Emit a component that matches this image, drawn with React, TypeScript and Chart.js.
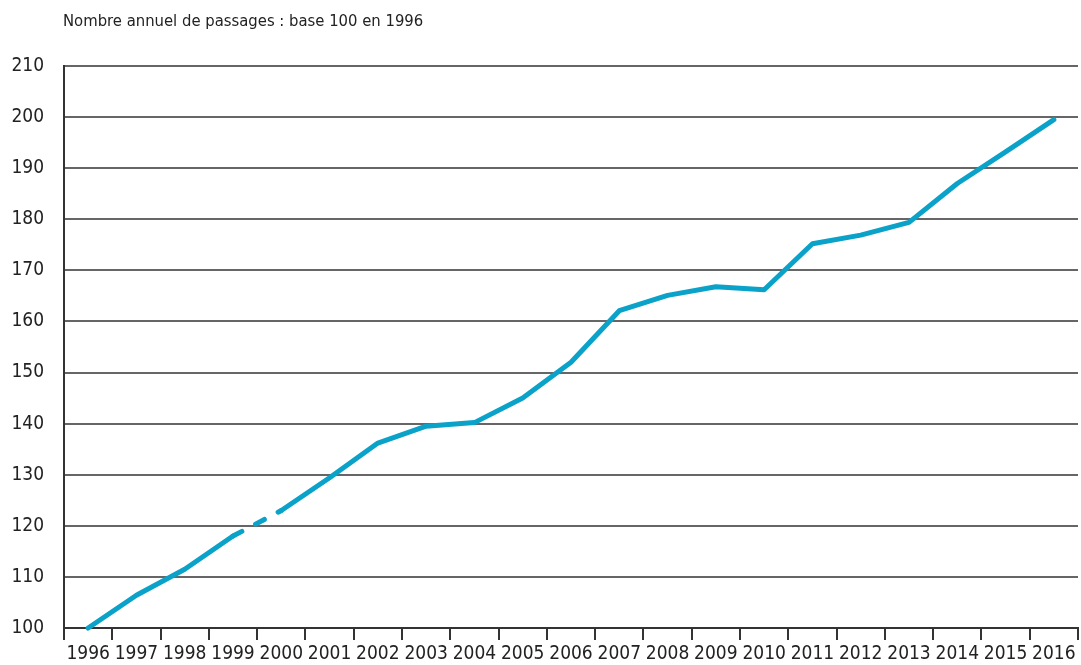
import React, { useEffect, useRef } from "react";
import { Chart, registerables } from "chart.js";

Chart.register(...registerables);

const years: string[] = [
  "1996", "1997", "1998", "1999", "2000", "2001", "2002", "2003", "2004", "2005", "2006",
  "2007", "2008", "2009", "2010", "2011", "2012", "2013", "2014", "2015", "2016",
];
const passages: number[] = [
  100, 106.4, 111.5, 118, 123, 129.4, 136.2, 139.5, 140.2, 145, 152,
  162.1, 165.1, 166.8, 166.2, 175.2, 176.9, 179.4, 187, 193.2, 199.5,
];
const dashedFromIndex = 3; // segment 1999 -> 2000 is dashed
const titleText = "Nombre annuel de passages : base 100 en 1996";

const FONT = "'Liberation Sans Narrow', 'DejaVu Sans Condensed', 'Roboto Condensed', 'Liberation Sans', sans-serif";

export default function App() {
  const canvasRef = useRef<HTMLCanvasElement | null>(null);

  useEffect(() => {
    const canvas = canvasRef.current;
    if (!canvas) return;
    const chart = new Chart(canvas, {
      type: "line",
      data: {
        labels: years,
        datasets: [
          {
            data: passages,
            borderColor: "#0aa2c8",
            borderWidth: 5,
            pointRadius: 0,
            tension: 0,
            borderCapStyle: "round",
            borderJoinStyle: "round",
            clip: false as any,
            segment: {
              borderDash: (ctx: any) => (ctx.p0DataIndex === dashedFromIndex ? [10, 15.5] : undefined),
            },
          },
        ],
      },
      options: {
        animation: false,
        responsive: false,
        maintainAspectRatio: false,
        layout: { padding: { top: 66, right: 3, left: 0, bottom: 0 } },
        plugins: {
          legend: { display: false },
          tooltip: { enabled: false },
          title: { display: false },
        },
        scales: {
          x: {
            type: "category",
            offset: true,
            grid: {
              display: true,
              offset: true,
              drawOnChartArea: false,
              drawTicks: true,
              tickLength: 12,
              color: "#333333",
              lineWidth: 2,
            },
            border: { display: true, color: "#333333", width: 2 },
            ticks: {
              color: "#222222",
              font: { family: FONT, size: 19 },
              padding: 3,
              maxRotation: 0,
              autoSkip: false,
            },
            afterFit: (s: any) => {
              s.height = 37;
            },
          },
          y: {
            min: 100,
            max: 210,
            ticks: {
              stepSize: 10,
              color: "#222222",
              font: { family: FONT, size: 19 },
              padding: 20,
            },
            grid: {
              color: "#666666",
              lineWidth: 2,
              drawTicks: false,
            },
            border: { display: true, color: "#333333", width: 2 },
            afterFit: (s: any) => {
              s.width = 64;
            },
          },
        },
      },
    });
    return () => chart.destroy();
  }, []);

  return (
    <div style={{ position: "fixed", left: 0, top: 0, width: 1081, height: 665, background: "#ffffff" }}>
      <div
        style={{
          position: "absolute",
          left: 63,
          top: 9,
          fontFamily: FONT,
          fontSize: 16.5,
          color: "#222222",
          whiteSpace: "nowrap",
          lineHeight: "24px",
        }}
      >
        {titleText}
      </div>
      <canvas ref={canvasRef} width={1081} height={665} style={{ display: "block", width: 1081, height: 665 }} />
    </div>
  );
}
